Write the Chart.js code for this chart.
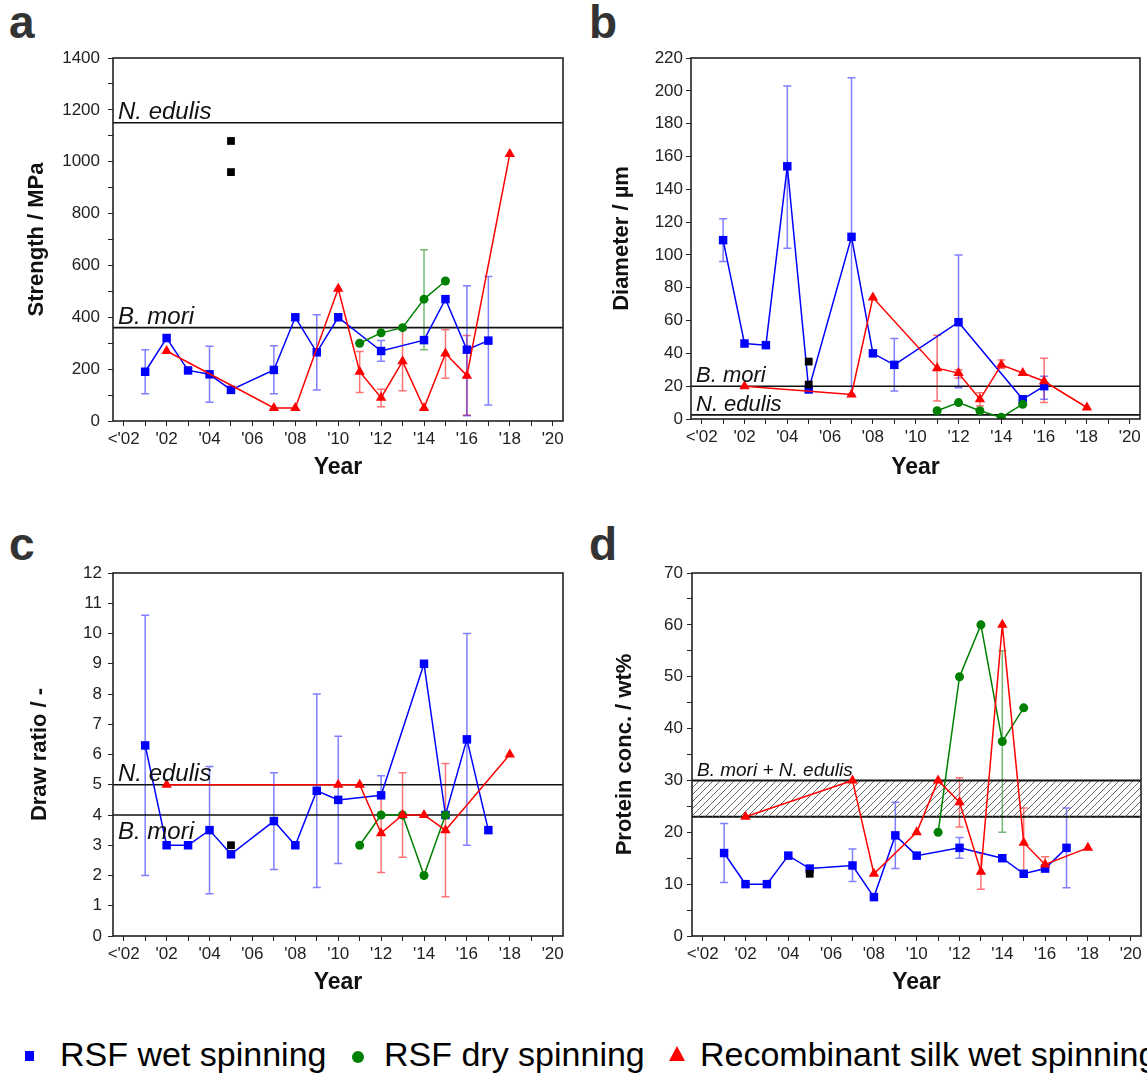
<!DOCTYPE html>
<html>
<head>
<meta charset="utf-8">
<script src="https://cdn.jsdelivr.net/npm/chart.js@4.4.1/dist/chart.umd.min.js"></script>
<style>
  body { margin: 0; background: #fff; width: 1147px; height: 1074px; position: relative; overflow: hidden;
         font-family: 'Liberation Sans', Arial, sans-serif; }
  canvas { position: absolute; }
  .letter { position: absolute; font-size: 46px; font-weight: bold; line-height: 1; color: #333; }
  .lt { position: absolute; top: 1037px; font-size: 34px; line-height: 1; color: #000; white-space: nowrap; }
  .mk { position: absolute; }
  .sq { width: 9px; height: 10px; background: #0000ff; top: 1051px; left: 25px; }
  .dot { width: 12px; height: 12px; border-radius: 50%; background: #008000; top: 1051px; left: 352px; }
  .tri { width: 0; height: 0; border-left: 8px solid transparent; border-right: 8px solid transparent;
         border-bottom: 15px solid #ff0000; top: 1046px; left: 669px; }
</style>
</head>
<body>
<div class="letter" style="left:9px; top:-1px;">a</div>
<div class="letter" style="left:589px; top:-1px;">b</div>
<div class="letter" style="left:9px; top:521px;">c</div>
<div class="letter" style="left:589px; top:521px;">d</div>

<canvas id="chartA" width="580" height="500" style="left:0px; top:0px;"></canvas>
<canvas id="chartB" width="567" height="500" style="left:580px; top:0px;"></canvas>
<canvas id="chartC" width="580" height="500" style="left:0px; top:515px;"></canvas>
<canvas id="chartD" width="567" height="500" style="left:580px; top:515px;"></canvas>

<span class="mk sq"></span><span class="lt" style="left:60px;">RSF wet spinning</span>
<span class="mk dot"></span><span class="lt" style="left:384px;">RSF dry spinning</span>
<span class="mk tri"></span><span class="lt" style="left:700px;">Recombinant silk wet spinning</span>

<script>
Chart.defaults.font.family = "'Liberation Sans', Arial, sans-serif";
Chart.defaults.color = "#222";

// x axis
const yearTicks = [2000, 2002, 2004, 2006, 2008, 2010, 2012, 2014, 2016, 2018, 2020];
const yearTickLabels = ["<'02", "'02", "'04", "'06", "'08", "'10", "'12", "'14", "'16", "'18", "'20"];
const X_MIN = 1999.5;
const X_MAX = 2020.48;

// a: strength
const strengthWetYears = [2001, 2002, 2003, 2004, 2005, 2007, 2008, 2009, 2010, 2012, 2014, 2015, 2016, 2017];
const strengthWet = [190, 320, 195, 180, 120, 197, 400, 265, 400, 270, 312, 470, 275, 310];
const strengthWetErr = [[105, 275], null, null, [72, 288], null, [105, 290], null, [120, 410], null, [230, 310], null, null, [20, 522], [62, 557]];
const strengthDryYears = [2011, 2012, 2013, 2014, 2015];
const strengthDry = [300, 340, 360, 470, 540];
const strengthDryErr = [null, null, null, [275, 660], null];
const strengthRecYears = [2002, 2007, 2008, 2010, 2011, 2012, 2013, 2014, 2015, 2016, 2018];
const strengthRec = [270, 50, 50, 510, 190, 90, 230, 50, 260, 175, 1030];
const strengthRecErr = [null, null, null, null, [110, 268], [55, 122], [117, 352], null, [165, 352], [23, 330], null];
const strengthOtherYears = [2005, 2005];
const strengthOther = [1080, 960];
const strengthRefs = [1150, 360];
const strengthRefNames = ["N. edulis", "B. mori"];

// b: diameter
const diameterWetYears = [2001, 2002, 2003, 2004, 2005, 2007, 2008, 2009, 2012, 2015, 2016];
const diameterWet = [109, 46, 45, 154, 18, 111, 40, 33, 59, 12, 20];
const diameterWetErr = [[96, 122], null, null, [104, 203], null, [15, 208], null, [17, 49], [19, 100], null, [12, 26]];
const diameterDryYears = [2011, 2012, 2013, 2014, 2015];
const diameterDry = [5, 10, 5, 1, 9];
const diameterDryErr = [null, null, null, null, null];
const diameterRecYears = [2002, 2007, 2008, 2011, 2012, 2013, 2014, 2015, 2016, 2018];
const diameterRec = [20, 15, 74, 31, 28, 12, 33, 28, 23, 7];
const diameterRecErr = [null, null, null, [11, 51], [25, 30], [8, 16], [31, 36], null, [10, 37], null];
const diameterOtherYears = [2005, 2005];
const diameterOther = [35, 21];
const diameterRefs = [20, 2.5];
const diameterRefNames = ["B. mori", "N. edulis"];

// c: draw ratio
const drawWetYears = [2001, 2002, 2003, 2004, 2005, 2007, 2008, 2009, 2010, 2012, 2014, 2015, 2016, 2017];
const drawWet = [6.3, 3, 3, 3.5, 2.7, 3.8, 3, 4.8, 4.5, 4.65, 9, 4, 6.5, 3.5];
const drawWetErr = [[2, 10.6], null, null, [1.4, 5.6], null, [2.2, 5.4], null, [1.6, 8], [2.4, 6.6], [4.6, 5.3], null, null, [3, 10], null];
const drawDryYears = [2011, 2012, 2013, 2014, 2015];
const drawDry = [3, 4, 4, 2, 4];
const drawDryErr = [null, null, null, null, null];
const drawRecYears = [2002, 2010, 2011, 2012, 2013, 2014, 2015, 2018];
const drawRec = [5, 5, 5, 3.4, 4, 4, 3.5, 6];
const drawRecErr = [null, null, null, [2.1, 4.7], [2.6, 5.4], null, [1.3, 5.7], null];
const drawOtherYears = [2005];
const drawOther = [3];
const drawRefs = [5, 4];
const drawRefNames = ["N. edulis", "B. mori"];

// d: protein concentration
const proteinWetYears = [2001, 2002, 2003, 2004, 2005, 2007, 2008, 2009, 2010, 2012, 2014, 2015, 2016, 2017];
const proteinWet = [16, 10, 10, 15.5, 13, 13.6, 7.5, 19.4, 15.5, 17, 15, 12, 13, 17];
const proteinWetErr = [[10.3, 21.7], null, null, null, null, [10.5, 16.8], null, [13, 25.8], null, [15, 19], null, null, null, [9.3, 24.7]];
const proteinDryYears = [2011, 2012, 2013, 2014, 2015];
const proteinDry = [20, 50, 60, 37.5, 44];
const proteinDryErr = [null, null, null, [20, 55], null];
const proteinRecYears = [2002, 2007, 2008, 2010, 2011, 2012, 2013, 2014, 2015, 2016, 2018];
const proteinRec = [23, 30, 12, 20, 30, 25.8, 12.4, 60, 18, 13.8, 17];
const proteinRecErr = [null, null, null, null, null, [21, 30.5], [9, 16], null, [12, 24.7], [12.5, 15.3], null];
const proteinOtherYears = [2005];
const proteinOther = [12];
const proteinBand = [30, 23];
const proteinBandName = "B. mori + N. edulis";

const BLUE = "#0000ff";
const GREEN = "#008000";
const RED = "#ff0000";

function pts(years, vals) {
  return years.map((x, i) => ({ x: x, y: vals[i] }));
}

function series(label, years, vals, errs, color, errColor, style, radius) {
  return {
    label: label,
    data: pts(years, vals),
    errors: errs,
    errorColor: errColor,
    showLine: true,
    borderColor: color,
    backgroundColor: color,
    pointBackgroundColor: color,
    borderWidth: 1.5,
    pointStyle: style,
    pointRadius: radius,
    pointBorderWidth: 0,
    tension: 0,
    fill: false,
  };
}

function others(years, vals) {
  return {
    label: "other",
    data: pts(years, vals),
    showLine: false,
    pointStyle: "rect",
    pointRadius: 5.5,
    pointBorderWidth: 0,
    pointBackgroundColor: "#000",
    backgroundColor: "#000",
    borderColor: "#000",
  };
}

function refLine(value, width) {
  return {
    label: "ref",
    data: [{ x: X_MIN, y: value }, { x: X_MAX, y: value }],
    showLine: true,
    borderColor: "#111",
    borderWidth: width || 1.6,
    pointRadius: 0,
    fill: false,
  };
}

const errorBarPlugin = {
  id: "errorBars",
  beforeDatasetsDraw(chart) {
    const { ctx, scales: { x, y } } = chart;
    chart.data.datasets.forEach((ds) => {
      if (!ds.errors) return;
      ctx.save();
      ctx.strokeStyle = ds.errorColor;
      ctx.lineWidth = 1.5;
      ds.errors.forEach((e, i) => {
        if (!e) return;
        const px = x.getPixelForValue(ds.data[i].x);
        const lo = y.getPixelForValue(e[0]);
        const hi = y.getPixelForValue(e[1]);
        ctx.beginPath();
        ctx.moveTo(px, lo);
        ctx.lineTo(px, hi);
        ctx.moveTo(px - 4, lo);
        ctx.lineTo(px + 4, lo);
        ctx.moveTo(px - 4, hi);
        ctx.lineTo(px + 4, hi);
        ctx.stroke();
      });
      ctx.restore();
    });
  },
};

const framePlugin = {
  id: "frame",
  afterDatasetsDraw(chart) {
    const { ctx, chartArea: a } = chart;
    ctx.save();
    ctx.strokeStyle = "#222";
    ctx.lineWidth = 1.6;
    ctx.strokeRect(a.left, a.top, a.right - a.left, a.bottom - a.top);
    ctx.restore();
  },
};

function refLabelPlugin(items) {
  return {
    id: "refLabels",
    afterDatasetsDraw(chart) {
      const { ctx, chartArea, scales: { y } } = chart;
      ctx.save();
      ctx.fillStyle = "#111";
      items.forEach((it) => {
        const py = y.getPixelForValue(it.value);
        ctx.font = "italic " + it.size + "px 'Liberation Sans', Arial, sans-serif";
        ctx.textBaseline = it.below ? "top" : "alphabetic";
        ctx.fillText(it.text, chartArea.left + 5, it.below ? py + 5 : py - 4);
      });
      ctx.restore();
    },
  };
}

function yearLabel(v) {
  const i = yearTicks.indexOf(v);
  return i >= 0 ? yearTickLabels[i] : "";
}

function buildPanel(id, cfg) {
  return new Chart(document.getElementById(id), {
    type: "line",
    data: { datasets: cfg.datasets },
    options: {
      responsive: false,
      animation: false,
      events: [],
      layout: { padding: { top: 58, right: cfg.padRight, left: 0, bottom: 0 } },
      plugins: { legend: { display: false }, tooltip: { enabled: false } },
      scales: {
        x: {
          type: "linear",
          min: X_MIN,
          max: X_MAX,
          afterFit: (s) => { s.height = cfg.xHeight; },
          border: { display: false },
          grid: { drawOnChartArea: false, tickLength: 5, color: "#222", lineWidth: 1 },
          ticks: {
            stepSize: 1,
            includeBounds: false,
            autoSkip: false,
            maxRotation: 0,
            padding: 3,
            font: { size: 17 },
            color: "#222",
            callback: yearLabel,
          },
          title: {
            display: true,
            text: "Year",
            color: "#111",
            font: { size: 23, weight: "bold" },
            padding: { top: 0, bottom: 19 },
          },
        },
        y: {
          type: "linear",
          min: cfg.yMin,
          max: cfg.yMax,
          afterFit: (s) => { s.width = cfg.yWidth; },
          border: { display: false },
          grid: { drawOnChartArea: false, tickLength: 5, color: "#222", lineWidth: 1 },
          ticks: {
            stepSize: cfg.minorStep,
            padding: cfg.tickPad,
            font: { size: 17 },
            color: "#222",
            callback: (v) => (Math.abs(v / cfg.majorStep - Math.round(v / cfg.majorStep)) < 1e-6 ? v : ""),
          },
          title: {
            display: true,
            text: cfg.yTitle,
            color: "#111",
            font: { size: 22, weight: "bold" },
            padding: { top: cfg.titlePad, bottom: 0 },
          },
        },
      },
    },
    plugins: [errorBarPlugin, framePlugin, refLabelPlugin(cfg.labels)],
  });
}

function makeHatch(canvas) {
  const c = document.createElement("canvas");
  c.width = 7;
  c.height = 7;
  const g = c.getContext("2d");
  g.strokeStyle = "#666";
  g.lineWidth = 1;
  g.beginPath();
  g.moveTo(0, 7); g.lineTo(7, 0);
  g.moveTo(-1, 1); g.lineTo(1, -1);
  g.moveTo(6, 8); g.lineTo(8, 6);
  g.stroke();
  return canvas.getContext("2d").createPattern(c, "repeat");
}

function initCharts() {
  buildPanel("chartA", {
    padRight: 17, xHeight: 79, yWidth: 113, tickPad: 8, titlePad: 24,
    yMin: 0, yMax: 1400, minorStep: 100, majorStep: 200, yTitle: "Strength / MPa",
    labels: [
      { text: strengthRefNames[0], value: strengthRefs[0], size: 24 },
      { text: strengthRefNames[1], value: strengthRefs[1], size: 24 },
    ],
    datasets: [
      others(strengthOtherYears, strengthOther),
      series("Recombinant silk wet spinning", strengthRecYears, strengthRec, strengthRecErr, RED, "rgba(255,0,0,0.55)", "triangle", 6),
      series("RSF dry spinning", strengthDryYears, strengthDry, strengthDryErr, GREEN, "rgba(0,128,0,0.55)", "circle", 4.5),
      series("RSF wet spinning", strengthWetYears, strengthWet, strengthWetErr, BLUE, "rgba(0,0,255,0.5)", "rect", 6),
      refLine(strengthRefs[0]),
      refLine(strengthRefs[1]),
    ],
  });

  buildPanel("chartB", {
    padRight: 7, xHeight: 81, yWidth: 111, tickPad: 3, titlePad: 29,
    yMin: 0, yMax: 220, minorStep: 10, majorStep: 20, yTitle: "Diameter / µm",
    labels: [
      { text: diameterRefNames[0], value: diameterRefs[0], size: 22 },
      { text: diameterRefNames[1], value: diameterRefs[1], size: 22 },
    ],
    datasets: [
      others(diameterOtherYears, diameterOther),
      series("Recombinant silk wet spinning", diameterRecYears, diameterRec, diameterRecErr, RED, "rgba(255,0,0,0.55)", "triangle", 6),
      series("RSF dry spinning", diameterDryYears, diameterDry, diameterDryErr, GREEN, "rgba(0,128,0,0.55)", "circle", 4.5),
      series("RSF wet spinning", diameterWetYears, diameterWet, diameterWetErr, BLUE, "rgba(0,0,255,0.5)", "rect", 6),
      refLine(diameterRefs[0]),
      refLine(diameterRefs[1]),
    ],
  });

  buildPanel("chartC", {
    padRight: 17, xHeight: 79, yWidth: 113, tickPad: 6, titlePad: 27,
    yMin: 0, yMax: 12, minorStep: 0.5, majorStep: 1, yTitle: "Draw ratio / -",
    labels: [
      { text: drawRefNames[0], value: drawRefs[0], size: 24 },
      { text: drawRefNames[1], value: drawRefs[1], size: 24, below: true },
    ],
    datasets: [
      others(drawOtherYears, drawOther),
      series("Recombinant silk wet spinning", drawRecYears, drawRec, drawRecErr, RED, "rgba(255,0,0,0.55)", "triangle", 6),
      series("RSF dry spinning", drawDryYears, drawDry, drawDryErr, GREEN, "rgba(0,128,0,0.55)", "circle", 4.5),
      series("RSF wet spinning", drawWetYears, drawWet, drawWetErr, BLUE, "rgba(0,0,255,0.5)", "rect", 6),
      refLine(drawRefs[0]),
      refLine(drawRefs[1]),
    ],
  });

  const bandTop = refLine(proteinBand[0], 2);
  bandTop.fill = "+1";
  bandTop.backgroundColor = makeHatch(document.getElementById("chartD"));
  const bandBottom = refLine(proteinBand[1], 2);

  buildPanel("chartD", {
    padRight: 6, xHeight: 79, yWidth: 112, tickPad: 4, titlePad: 32,
    yMin: 0, yMax: 70, minorStep: 5, majorStep: 10, yTitle: "Protein conc. / wt%",
    labels: [{ text: proteinBandName, value: proteinBand[0], size: 19 }],
    datasets: [
      others(proteinOtherYears, proteinOther),
      series("Recombinant silk wet spinning", proteinRecYears, proteinRec, proteinRecErr, RED, "rgba(255,0,0,0.55)", "triangle", 6),
      series("RSF dry spinning", proteinDryYears, proteinDry, proteinDryErr, GREEN, "rgba(0,128,0,0.55)", "circle", 4.5),
      series("RSF wet spinning", proteinWetYears, proteinWet, proteinWetErr, BLUE, "rgba(0,0,255,0.5)", "rect", 6),
      bandTop,
      bandBottom,
    ],
  });
}

if (document.readyState === "loading") {
  document.addEventListener("DOMContentLoaded", initCharts);
} else {
  initCharts();
}
</script>
</body>
</html>
